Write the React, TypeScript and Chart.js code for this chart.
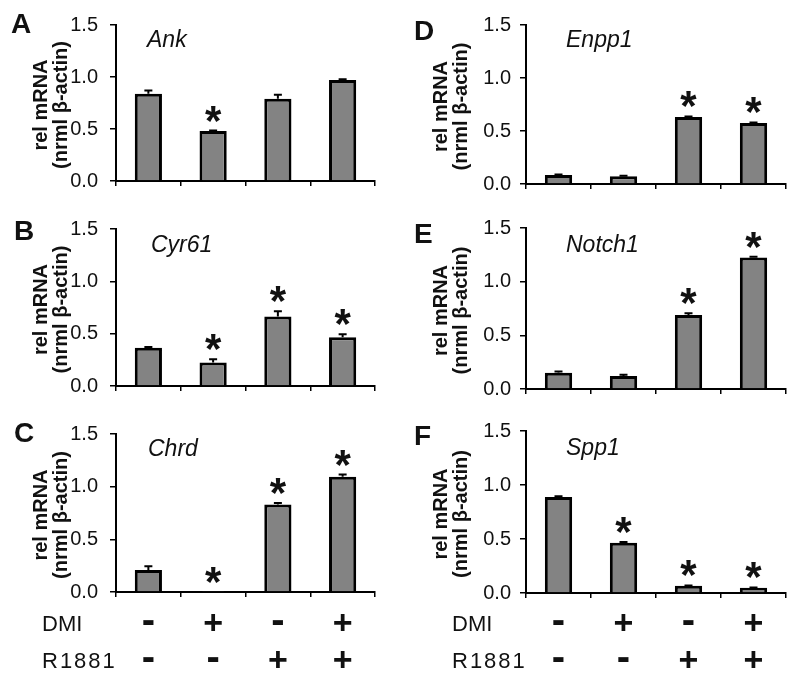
import React, { useEffect, useRef } from 'react';
import { Chart, registerables } from 'chart.js';

Chart.register(...registerables);

// ---------- data ----------
const CATEGORIES = ['DMI-/R1881-', 'DMI+/R1881-', 'DMI-/R1881+', 'DMI+/R1881+'];
const DMI_SIGNS = ['-', '+', '-', '+'];
const R1881_SIGNS = ['-', '-', '+', '+'];
const Y_TICKS = [0, 0.5, 1.0, 1.5];
const Y_TITLE = ['rel mRNA', '(nrml β-actin)'];

const ANK = [0.84, 0.48, 0.79, 0.97];
const ANK_ERR = [0.03, 0.005, 0.04, 0.008];
const ANK_SIG = [false, true, false, false];

const CYR61 = [0.365, 0.225, 0.665, 0.465];
const CYR61_ERR = [0.008, 0.03, 0.05, 0.03];
const CYR61_SIG = [false, true, true, true];

const CHRD = [0.21, 0.004, 0.83, 1.095];
const CHRD_ERR = [0.035, 0, 0.015, 0.02];
const CHRD_SIG = [false, true, true, true];

const ENPP1 = [0.085, 0.073, 0.632, 0.575];
const ENPP1_ERR = [0.004, 0.004, 0.005, 0.006];
const ENPP1_SIG = [false, false, true, true];

const NOTCH1 = [0.152, 0.122, 0.69, 1.225];
const NOTCH1_ERR = [0.01, 0.01, 0.015, 0.008];
const NOTCH1_SIG = [false, false, true, true];

const SPP1 = [0.89, 0.465, 0.066, 0.048];
const SPP1_ERR = [0.005, 0.008, 0.004, 0.003];
const SPP1_SIG = [false, true, true, true];

// ---------- layout / style ----------
const FONT = '"Liberation Sans", Arial, Helvetica, sans-serif';
const BAR_FILL = '#838383';
const INK = '#111111';
const Y_W = 50;
const X_H = 10;

type Panel = {
  letter: string;
  gene: string;
  values: number[];
  err: number[];
  sig: boolean[];
  left: number;
  top: number;
  w: number;
  h: number;
  area: { l: number; r: number; t: number; b: number };
  letterPos: [number, number];
  genePos: [number, number];
  table: boolean;
  tickPad: number;
};

const PANELS: Panel[] = [
  { letter: 'A', gene: 'Ank', values: ANK, err: ANK_ERR, sig: ANK_SIG, left: 0, top: 0, w: 400, h: 205,
    area: { l: 116, r: 375, t: 25, b: 190 }, letterPos: [11, 33], genePos: [147, 47], table: false, tickPad: 12 },
  { letter: 'B', gene: 'Cyr61', values: CYR61, err: CYR61_ERR, sig: CYR61_SIG, left: 0, top: 205, w: 400, h: 205,
    area: { l: 116, r: 375, t: 23, b: 187 }, letterPos: [14, 35], genePos: [151, 47], table: false, tickPad: 12 },
  { letter: 'C', gene: 'Chrd', values: CHRD, err: CHRD_ERR, sig: CHRD_SIG, left: 0, top: 410, w: 400, h: 273,
    area: { l: 116, r: 375, t: 15, b: 182 }, letterPos: [14, 32], genePos: [148, 46], table: true, tickPad: 12 },
  { letter: 'D', gene: 'Enpp1', values: ENPP1, err: ENPP1_ERR, sig: ENPP1_SIG, left: 400, top: 0, w: 400, h: 205,
    area: { l: 126, r: 386, t: 25, b: 190 }, letterPos: [14, 40], genePos: [166, 47], table: false, tickPad: 9 },
  { letter: 'E', gene: 'Notch1', values: NOTCH1, err: NOTCH1_ERR, sig: NOTCH1_SIG, left: 400, top: 205, w: 400, h: 205,
    area: { l: 126, r: 386, t: 23, b: 187 }, letterPos: [14, 38], genePos: [166, 47], table: false, tickPad: 9 },
  { letter: 'F', gene: 'Spp1', values: SPP1, err: SPP1_ERR, sig: SPP1_SIG, left: 400, top: 410, w: 400, h: 273,
    area: { l: 126, r: 386, t: 17, b: 183 }, letterPos: [14, 35], genePos: [166, 45], table: true, tickPad: 9 },
];

function annotPlugin(p: Panel) {
  return {
    id: 'annot' + p.letter,
    afterDraw(chart: any) {
      const ctx: CanvasRenderingContext2D = chart.ctx;
      const ys = chart.scales.y;
      const meta = chart.getDatasetMeta(0);
      ctx.save();
      ctx.fillStyle = INK;
      ctx.strokeStyle = '#000';

      // error bars + significance stars
      meta.data.forEach((bar: any, i: number) => {
        const v = p.values[i];
        const e = p.err[i];
        const top = ys.getPixelForValue(v);
        const et = ys.getPixelForValue(v + e);
        if (e > 0) {
          ctx.lineWidth = 2;
          ctx.beginPath();
          ctx.moveTo(bar.x, top);
          ctx.lineTo(bar.x, et);
          ctx.moveTo(bar.x - 4, et);
          ctx.lineTo(bar.x + 4, et);
          ctx.stroke();
        }
        if (p.sig[i]) {
          ctx.font = `bold 42px ${FONT}`;
          ctx.textAlign = 'center';
          ctx.textBaseline = 'alphabetic';
          const cy = et - 20;
          ctx.fillText('*', bar.x, cy + 24);
        }
      });

      // panel letter
      ctx.font = `bold 28px ${FONT}`;
      ctx.textAlign = 'left';
      ctx.textBaseline = 'alphabetic';
      ctx.fillText(p.letter, p.letterPos[0], p.letterPos[1]);

      // gene name
      ctx.font = `italic 23px ${FONT}`;
      ctx.fillText(p.gene, p.genePos[0], p.genePos[1]);

      // y-axis title (two lines, rotated)
      const ca = chart.chartArea;
      const cy = (ca.top + ca.bottom) / 2 + 2;
      ctx.font = `bold 20px ${FONT}`;
      ctx.textAlign = 'center';
      [47, 67].forEach((bx, k) => {
        ctx.save();
        ctx.translate(bx, cy);
        ctx.rotate(-Math.PI / 2);
        ctx.fillText(Y_TITLE[k], 0, 0);
        ctx.restore();
      });

      // treatment table
      if (p.table) {
        const rowY = [212.5, 250];
        const labelX = p.left === 0 ? 42 : 52;
        ctx.textAlign = 'left';
        ctx.font = `22px ${FONT}`;
        ctx.fillText('DMI', labelX, rowY[0] + 8);
        (ctx as any).letterSpacing = '2px';
        ctx.fillText('R1881', labelX, rowY[1] + 8);
        (ctx as any).letterSpacing = '0px';
        ctx.textAlign = 'center';
        [DMI_SIGNS, R1881_SIGNS].forEach((signs, r) => {
          signs.forEach((s, i) => {
            const x = meta.data[i].x;
            if (s === '+') {
              ctx.font = `bold 34px ${FONT}`;
              ctx.fillText('+', x, rowY[r] + 11);
            } else {
              ctx.font = `bold 40px ${FONT}`;
              ctx.fillText('-', x, rowY[r] + 10);
            }
          });
        });
      }
      ctx.restore();
    },
  };
}

function PanelChart({ p }: { p: Panel }) {
  const ref = useRef<HTMLCanvasElement | null>(null);
  useEffect(() => {
    if (!ref.current) return;
    const padBottom = p.h - p.area.b - X_H;
    const chart = new Chart(ref.current, {
      type: 'bar',
      data: {
        labels: CATEGORIES,
        datasets: [
          {
            data: p.values,
            backgroundColor: BAR_FILL,
            borderColor: '#000',
            borderWidth: 3,
            barPercentage: 0.42,
            categoryPercentage: 1,
          },
        ],
      },
      options: {
        animation: false,
        responsive: false,
        maintainAspectRatio: false,
        events: [],
        layout: {
          padding: {
            left: p.area.l - Y_W,
            right: p.w - p.area.r,
            top: p.area.t,
            bottom: padBottom,
          },
        },
        plugins: {
          legend: { display: false },
          tooltip: { enabled: false },
          title: { display: false },
        },
        scales: {
          x: {
            offset: true,
            grid: {
              display: true,
              offset: true,
              drawOnChartArea: false,
              drawTicks: true,
              tickLength: 5,
              color: '#000',
              lineWidth: 1.5,
            },
            border: { display: true, color: '#000', width: 2 },
            ticks: { display: false },
            afterFit: (s: any) => {
              s.height = X_H;
            },
          },
          y: {
            min: 0,
            max: 1.5,
            afterBuildTicks: (s: any) => {
              s.ticks = Y_TICKS.map((v) => ({ value: v }));
            },
            ticks: {
              color: INK,
              padding: p.tickPad,
              font: { family: FONT, size: 20 },
              callback: (v: any) => Number(v).toFixed(1),
            },
            grid: {
              display: true,
              drawOnChartArea: false,
              drawTicks: true,
              tickLength: 6,
              color: '#000',
              lineWidth: 1.5,
            },
            border: { display: true, color: '#000', width: 2 },
            afterFit: (s: any) => {
              s.width = Y_W;
            },
          },
        },
      } as any,
      plugins: [annotPlugin(p)],
    });
    return () => chart.destroy();
  }, [p]);
  return (
    <canvas
      ref={ref}
      width={p.w}
      height={p.h}
      style={{ position: 'absolute', left: p.left, top: p.top, width: p.w, height: p.h }}
    />
  );
}

export default function App() {
  return (
    <div
      style={{
        position: 'absolute',
        left: 0,
        top: 0,
        width: 800,
        height: 683,
        background: '#ffffff',
        overflow: 'hidden',
      }}
    >
      {PANELS.map((p) => (
        <PanelChart key={p.letter} p={p} />
      ))}
    </div>
  );
}
